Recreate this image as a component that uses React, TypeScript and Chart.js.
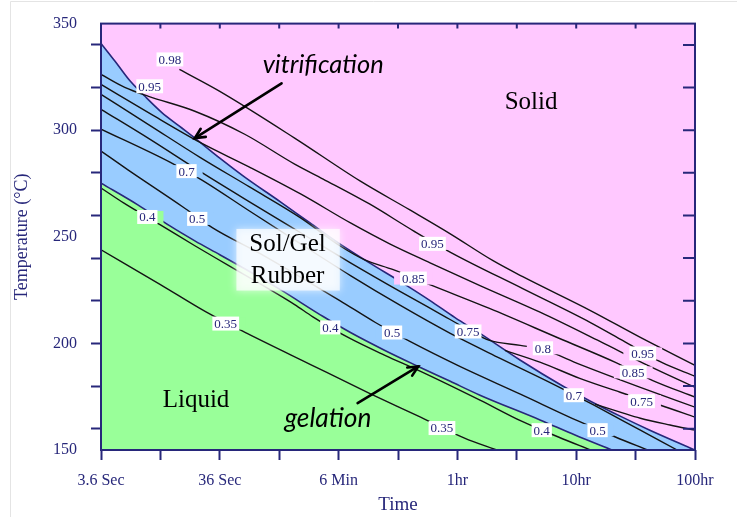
import React, { useEffect, useRef } from 'react';
import { Chart, registerables } from 'chart.js';

Chart.register(...registerables);

const NAVY = '#27277a';
const PINK = '#ffc8ff';
const BLUE = '#99ccff';
const GREEN = '#99ff99';
const SERIF = '"Liberation Serif", "Times New Roman", serif';
const SANS = 'Lato, "Open Sans", sans-serif';

// x = log10(time in hours), y = temperature (°C)
const xTickValues = [-3, -2.5, -2, -1.5, -1, -0.5, 0, 0.5, 1, 1.5, 2];
const xLabelValues = [-3, -2, -1, 0, 1, 2];
const xLabelTexts = ['3.6 Sec', '36 Sec', '6 Min', '1hr', '10hr', '100hr'];
const yLabelValues = [150, 200, 250, 300, 350];
const yMarkValues = [160, 180, 200, 220, 240, 260, 280, 300, 320, 340];

const vitrification = [[-3.0, 340.7], [-2.88, 332.2], [-2.76, 323.4], [-2.63, 315.9], [-2.49, 308.4], [-2.34, 301.9], [-2.21, 296.3], [-2.0, 286.9], [-1.79, 278.0], [-1.49, 266.4], [-1.24, 256.5], [-0.99, 246.7], [-0.74, 237.8], [-0.48, 229.0], [-0.23, 220.1], [-0.02, 212.1], [0.19, 204.7], [0.53, 192.1], [0.89, 179.9], [1.12, 172.9], [1.37, 165.9], [1.62, 159.3], [2.0, 150.0]];
const gelation = [[-3, 275.2], [-2.69, 265.0], [-2.42, 255.1], [-2.21, 248.1], [-2.0, 241.6], [-1.79, 235.0], [-1.49, 225.2], [-1.13, 212.6], [-0.9, 205.1], [-0.61, 196.7], [-0.33, 189.2], [-0.06, 182.2], [0.19, 175.7], [0.7, 164.0], [0.99, 157.0], [1.3, 150.0]];

const c035 = [[-3, 243.9], [-2.5, 227.6], [-2.12, 214.9], [-1.77, 204.7], [-1.24, 190.2], [-0.74, 176.6], [-0.31, 165.4], [0.06, 155.6], [0.33, 150]];
const c040 = [[-3, 272.9], [-2.81, 265.9], [-2.5, 255.6], [-2.21, 245.8], [-1.91, 236.0], [-1.37, 218.2], [-1.22, 212.6], [-0.92, 202.8], [-0.61, 194.4], [-0.31, 186.9], [0.19, 173.4], [0.54, 163.5], [0.85, 156.1], [1.12, 150]];
const c050 = [[-3, 290.2], [-2.77, 281.3], [-2.31, 264.0], [-2.06, 254.2], [-1.66, 242.1], [-1.37, 232.7], [-0.99, 220.1], [-0.69, 209.8], [-0.4, 200.9], [0.02, 189.2], [0.53, 176.2], [1.02, 163.5], [1.33, 156.1], [1.6, 150]];
const c070 = [[-3, 300.5], [-2.42, 285.0], [-2.15, 276.6], [-1.75, 262.1], [-1.32, 246.7], [-0.9, 231.8], [-0.48, 217.8], [-0.06, 204.7], [0.36, 193.0], [0.81, 180.8], [1.15, 171.0], [1.54, 159.3], [1.85, 150]];
const c080 = [[-3, 309.8], [-2.59, 295.8], [-2.17, 280.8], [-1.75, 266.4], [-1.32, 251.9], [-0.9, 237.8], [-0.48, 224.3], [-0.15, 214.0], [0.09, 206.5], [0.27, 201.4], [0.53, 199.1], [0.72, 197.2], [1.03, 190.2], [1.54, 179.4], [2.0, 170.1]];
const c085 = [[-3, 316.8], [-2.59, 302.3], [-2.17, 287.4], [-1.75, 273.4], [-1.32, 258.9], [-0.99, 245.8], [-0.78, 239.2], [-0.54, 234.6], [-0.21, 227.1], [0.27, 216.4], [0.86, 202.3], [1.33, 191.1], [1.64, 182.7], [2.0, 174.8]];
const c090 = [[-3, 321.5], [-2.59, 307.9], [-2.17, 294.4], [-1.75, 282.7], [-1.32, 270.1], [-0.9, 256.5], [-0.57, 246.7], [-0.23, 237.8], [0.19, 227.1], [0.7, 214.5], [1.2, 200.9], [1.62, 189.2], [2.0, 179.4]];
const c095 = [[-3, 326.2], [-2.8, 320.1], [-2.6, 315.9], [-2.21, 308.9], [-1.79, 298.1], [-1.37, 284.1], [-1.13, 277.1], [-0.74, 265.4], [-0.37, 252.8], [-0.05, 242.5], [0.55, 225.7], [1.12, 209.8], [1.39, 201.4], [1.72, 191.1], [2.0, 184.6]];
const c098 = [[-2.34, 328.5], [-2.0, 318.2], [-1.37, 296.3], [-0.82, 276.2], [-0.4, 262.6], [-0.06, 251.4], [0.3, 238.8], [0.55, 231.3], [1.12, 215.4], [1.54, 202.8], [2.0, 189.7]];
const c075a = [[0.4, 196.7], [0.7, 191.1], [1.03, 183.6], [1.37, 177.1], [1.71, 171.0], [2.0, 165.4]];
const c075b = [[1.16, 171.5], [1.37, 167.8], [1.54, 164.9], [1.79, 161.7], [2.0, 159.3]];

const labelTexts = ['0.98', '0.95', '0.7', '0.5', '0.4', '0.35', '0.4', '0.5', '0.85', '0.95', '0.75', '0.8', '0.35', '0.4', '0.7', '0.5', '0.95', '0.85', '0.75'];
const labelTime = [-2.42, -2.59, -2.28, -2.19, -2.61, -1.95, -1.07, -0.55, -0.37, -0.21, 0.09, 0.72, -0.13, 0.71, 0.98, 1.18, 1.56, 1.48, 1.55];
const labelTemp = [333.2, 320.6, 280.8, 258.4, 259.3, 209.3, 207.5, 205.1, 230.4, 246.7, 205.6, 197.7, 160.3, 159.3, 175.7, 159.3, 195.3, 186.4, 172.9];
// background (region) behind each label, used to open a gap in the line
const labelGap = [PINK, null, BLUE, BLUE, GREEN, GREEN, null, BLUE, PINK, PINK, null, PINK, GREEN, null, null, BLUE, PINK, PINK, PINK];

const regionNames = ['Solid', 'Sol/Gel', 'Rubber', 'Liquid'];
const regionTime = [0.62, -1.43, -1.43, -2.2];
const regionTemp = [313.1, 246.3, 231.3, 173.4];
const solGelBox = [[-1.86, 253.7], [-0.99, 224.8]];

const noteTexts = ['vitrification', 'gelation'];
const noteTime = [-1.13, -1.09];
const noteTemp = [326.6, 160.7];
const noteWidths = [121, 87];
const arrowFrom = [[-1.48, 322.0], [-0.84, 172.0]];
const arrowTo = [[-2.21, 296.3], [-0.33, 189.2]];

const toXY = (pts: number[][]) => pts.map(([x, y]) => ({ x, y }));

export default function App() {
  const ref = useRef<HTMLCanvasElement>(null);

  useEffect(() => {
    const canvas = ref.current;
    if (!canvas) return;

    const contours = [c035, c040, c050, c070, c080, c085, c090, c095, c098, c075a, c075b];
    const lineBase = { pointRadius: 0, cubicInterpolationMode: 'monotone' as const, fill: false };
    const datasets: any[] = [
      ...contours.map((c) => ({ ...lineBase, data: toXY(c), borderColor: '#141414', borderWidth: 1.4 })),
      { ...lineBase, data: toXY(gelation), borderColor: NAVY, borderWidth: 1.6, backgroundColor: GREEN, fill: 'start' },
      { ...lineBase, data: toXY(vitrification), borderColor: NAVY, borderWidth: 1.6, backgroundColor: BLUE, fill: 'start' },
    ];

    const drawArrow = (ctx: CanvasRenderingContext2D, x1: number, y1: number, x2: number, y2: number) => {
      const a = Math.atan2(y2 - y1, x2 - x1);
      ctx.beginPath();
      ctx.moveTo(x1, y1);
      ctx.lineTo(x2, y2);
      ctx.stroke();
      ctx.beginPath();
      ctx.moveTo(x2 - 11 * Math.cos(a - 0.45), y2 - 11 * Math.sin(a - 0.45));
      ctx.lineTo(x2, y2);
      ctx.lineTo(x2 - 11 * Math.cos(a + 0.45), y2 - 11 * Math.sin(a + 0.45));
      ctx.stroke();
    };

    const decor = {
      id: 'decor',
      beforeDraw(chart: any) {
        const { ctx, chartArea: a } = chart;
        ctx.save();
        ctx.fillStyle = '#ffffff';
        ctx.fillRect(0, 0, chart.width, chart.height);
        ctx.fillStyle = PINK;
        ctx.fillRect(a.left, a.top, a.right - a.left, a.bottom - a.top);
        ctx.restore();
      },
      afterDatasetsDraw(chart: any) {
        const { ctx, chartArea: a, scales } = chart;
        const X = (v: number) => scales.x.getPixelForValue(v);
        const Y = (v: number) => scales.y.getPixelForValue(v);
        ctx.save();

        // Sol/Gel Rubber translucent box
        const bx1 = X(solGelBox[0][0]), by1 = Y(solGelBox[0][1]);
        const bx2 = X(solGelBox[1][0]), by2 = Y(solGelBox[1][1]);
        ctx.shadowColor = 'rgba(255,255,255,0.9)';
        ctx.shadowBlur = 8;
        ctx.fillStyle = 'rgba(255,255,255,0.72)';
        ctx.fillRect(bx1, by1, bx2 - bx1, by2 - by1);
        ctx.shadowBlur = 0;

        // contour labels
        ctx.font = `13px ${SERIF}`;
        ctx.textAlign = 'center';
        ctx.textBaseline = 'middle';
        labelTexts.forEach((t, i) => {
          const px = X(labelTime[i]);
          const py = Y(labelTemp[i]);
          const w = ctx.measureText(t).width + 4;
          const h = 14;
          const gap = labelGap[i];
          if (gap) {
            ctx.fillStyle = gap;
            ctx.fillRect(px - w / 2 - 6, py - h / 2 + 1, w + 12, h - 2);
          }
          ctx.fillStyle = '#ffffff';
          ctx.fillRect(px - w / 2, py - h / 2, w, h);
          ctx.fillStyle = NAVY;
          ctx.fillText(t, px, py + 1);
        });

        // frame
        ctx.strokeStyle = NAVY;
        ctx.lineWidth = 2;
        ctx.strokeRect(a.left, a.top, a.right - a.left, a.bottom - a.top);
        // inner ticks on top and right
        ctx.lineWidth = 2;
        ctx.beginPath();
        xTickValues.slice(1, -1).forEach((v) => {
          const px = X(v);
          ctx.moveTo(px, a.top);
          ctx.lineTo(px, a.top + 5);
        });
        yMarkValues.forEach((v) => {
          const py = Y(v);
          ctx.moveTo(a.right, py);
          ctx.lineTo(a.right - 12, py);
        });
        ctx.stroke();

        // region names
        ctx.fillStyle = '#000000';
        ctx.font = `25px ${SERIF}`;
        ctx.textAlign = 'center';
        ctx.textBaseline = 'middle';
        regionNames.forEach((t, i) => {
          ctx.fillText(t, X(regionTime[i]), Y(regionTemp[i]));
        });

        // annotations
        ctx.textBaseline = 'alphabetic';
        noteTexts.forEach((t, i) => {
          ctx.font = `italic 24px ${SANS}`;
          const w = ctx.measureText(t).width;
          const size = (24 * noteWidths[i]) / w;
          ctx.font = `italic ${size.toFixed(2)}px ${SANS}`;
          ctx.fillStyle = '#000000';
          ctx.fillText(t, X(noteTime[i]), Y(noteTemp[i]));
        });
        ctx.strokeStyle = '#000000';
        ctx.lineWidth = 2.6;
        ctx.lineCap = 'round';
        arrowFrom.forEach((f, i) => {
          drawArrow(ctx, X(f[0]), Y(f[1]), X(arrowTo[i][0]), Y(arrowTo[i][1]));
        });

        // faint outer frame of the picture
        ctx.strokeStyle = '#e4e4e4';
        ctx.lineWidth = 1;
        ctx.lineCap = 'butt';
        ctx.beginPath();
        ctx.moveTo(10.5, chart.height);
        ctx.lineTo(10.5, 1.5);
        ctx.lineTo(chart.width, 1.5);
        ctx.stroke();
        ctx.restore();
      },
    };

    const chart = new Chart(canvas, {
      type: 'line',
      data: { datasets },
      plugins: [decor],
      options: {
        animation: false,
        responsive: false,
        devicePixelRatio: 1,
        events: [],
        layout: { padding: { left: 0, top: 22, right: 42, bottom: 0 } },
        plugins: { legend: { display: false }, tooltip: { enabled: false } },
        scales: {
          x: {
            type: 'linear',
            min: -3,
            max: 2,
            position: 'bottom',
            afterBuildTicks: (s: any) => {
              s.ticks = xTickValues.map((v) => ({ value: v }));
            },
            afterFit: (s: any) => {
              s.height = 67;
            },
            ticks: {
              autoSkip: false,
              maxRotation: 0,
              minRotation: 0,
              padding: 11,
              color: NAVY,
              font: { family: SERIF, size: 16 },
              callback: (v: any) => {
                const i = xLabelValues.findIndex((t) => Math.abs(t - Number(v)) < 1e-6);
                return i >= 0 ? xLabelTexts[i] : '';
              },
            },
            grid: { drawOnChartArea: false, drawTicks: true, tickLength: 10, tickColor: NAVY, tickWidth: 2 },
            border: { display: false },
            title: { display: true, text: 'Time', color: NAVY, font: { family: SERIF, size: 19 }, padding: { top: 0, bottom: 1 } },
          },
          y: {
            type: 'linear',
            min: 150,
            max: 350,
            position: 'left',
            afterBuildTicks: (s: any) => {
              const t: any[] = [];
              for (let v = 150; v <= 350; v += 10) t.push({ value: v });
              s.ticks = t;
            },
            afterFit: (s: any) => {
              s.width = 101;
            },
            ticks: {
              autoSkip: false,
              padding: 14,
              color: NAVY,
              font: { family: SERIF, size: 16 },
              callback: (v: any) => (yLabelValues.includes(Number(v)) ? String(v) : ''),
            },
            grid: {
              drawOnChartArea: false,
              drawTicks: true,
              tickLength: 10,
              tickWidth: 2,
              tickColor: (c: any) => (c.tick && yMarkValues.includes(c.tick.value) ? NAVY : 'rgba(0,0,0,0)'),
            },
            border: { display: false },
            title: { display: true, text: 'Temperature (°C)', color: NAVY, font: { family: SERIF, size: 18 }, padding: { top: 11, bottom: 0 } },
          },
        },
      } as any,
    });

    return () => chart.destroy();
  }, []);

  return (
    <div style={{ position: 'absolute', left: 0, top: 0, width: 737, height: 517, background: '#fff' }}>
      <canvas ref={ref} width={737} height={517} style={{ display: 'block', width: 737, height: 517 }} />
    </div>
  );
}
